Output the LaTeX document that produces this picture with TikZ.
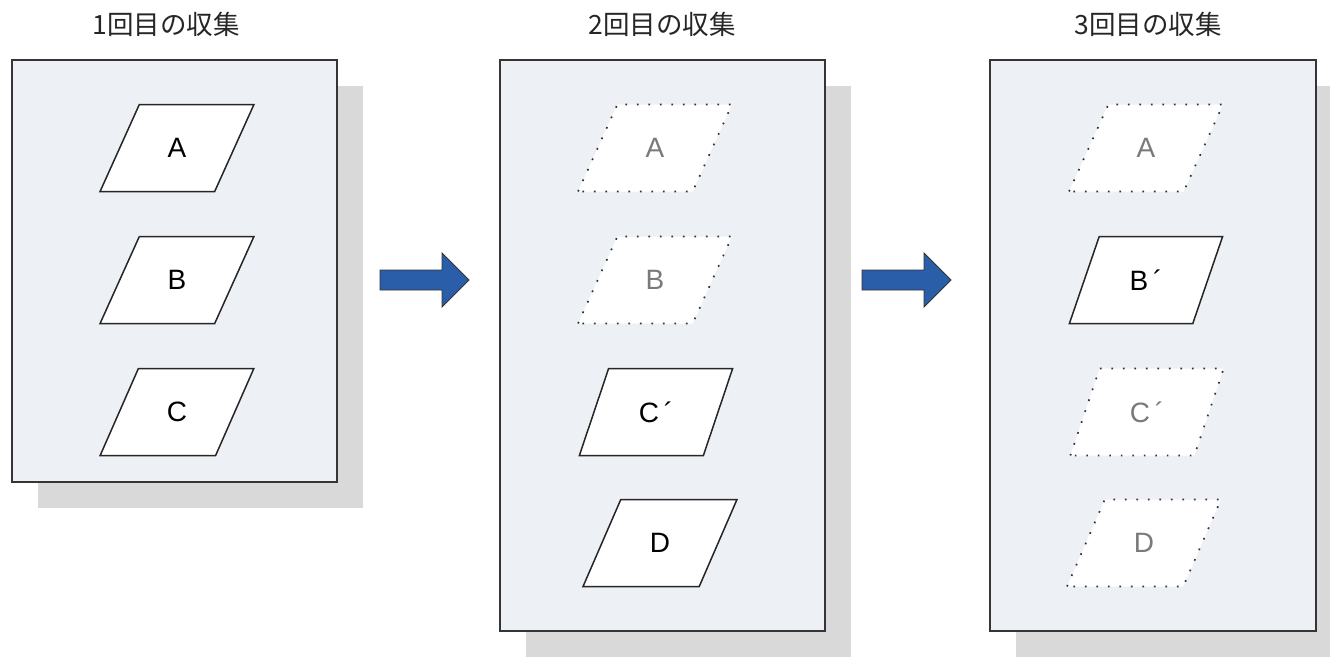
\documentclass[tikz,border=0pt]{standalone}
\usepackage{fontspec}
\setmainfont{Liberation Sans}
\newfontfamily\jpfont{Noto Sans CJK JP}
\usetikzlibrary{shapes.geometric}
\definecolor{panelfill}{HTML}{EDF0F5}
\definecolor{shadowgray}{HTML}{D9D9D9}
\definecolor{arrowblue}{HTML}{2B5EA8}
\definecolor{framegray}{HTML}{353535}
\definecolor{dotgray}{HTML}{333333}
\definecolor{ghosttext}{HTML}{7A7A7A}
\begin{document}
\begin{tikzpicture}[x=1pt,y=-1pt,
  panel/.style={draw=framegray, line width=1.8pt, fill=panelfill},
  shadowbox/.style={fill=shadowgray, draw=none},
  para/.style={trapezium, trapezium left angle=63.2, trapezium right angle=116.8,
    trapezium stretches=true, minimum width=154pt, minimum height=87pt, inner sep=0pt,
    fill=white, font=\fontsize{28}{28}\selectfont},
  solidpara/.style={para, draw=black!85, line width=1.5pt},
  dotpara/.style={para, draw=dotgray, line width=1.7pt, dash pattern=on 1.7pt off 9.8pt, text=ghosttext},
  title/.style={font=\jpfont\fontsize{26.5}{26.5}\selectfont, text=black!85},
  blockarrow/.style={fill=arrowblue, draw=black!80, line width=0.9pt, line join=miter}
]
\useasboundingbox (0,0) rectangle (1330,657);
% titles
\node[title] (t1) at (166,24) {1回目の収集};
\node[title] (t2) at (662,24) {2回目の収集};
\node[title] (t3) at (1148,24) {3回目の収集};
% shadows
\fill[shadowbox] (38,86) rectangle (363,508);
\fill[shadowbox] (526,86) rectangle (851,657);
\fill[shadowbox] (1016,86) rectangle (1342,657);
% panels
\draw[panel] (12,60) rectangle (337,482);
\draw[panel] (500,60) rectangle (825,631);
\draw[panel] (990,60) rectangle (1316,631);
% panel 1
\node[solidpara] (p1a) at (177,148) {A};
\node[solidpara] (p1b) at (177,280) {B};
\node[solidpara] (p1c) at (177,412) {C};
% panel 2
\node[dotpara] (p2a) at (655,148) {A};
\node[dotpara] (p2b) at (655,280) {B};
\node[solidpara] (p2c) at (656,412) {C\,´\hspace{4pt}};
\node[solidpara] (p2d) at (660,543) {D};
% panel 3
\node[dotpara] (p3a) at (1146,148) {A};
\node[solidpara] (p3b) at (1146,280) {B\,´\hspace{4pt}};
\node[dotpara] (p3c) at (1147,412) {C\,´\hspace{4pt}};
\node[dotpara] (p3d) at (1144,543) {D};
% arrows
\coordinate (a1) at (380,280);
\coordinate (a2) at (862,280);
\foreach \c in {a1,a2}{
  \draw[blockarrow] (\c) ++(0,-10) -- ++(62,0) -- ++(0,-17) -- ++(27,27) -- ++(-27,27) -- ++(0,-17) -- ++(-62,0) -- cycle;
}
\end{tikzpicture}
\end{document}
